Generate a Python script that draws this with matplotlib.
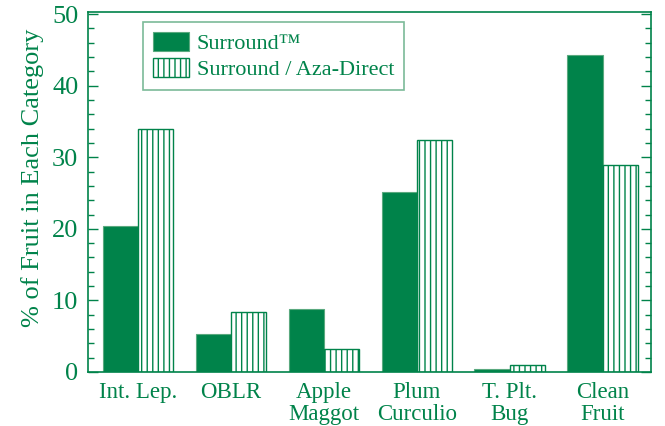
import matplotlib
matplotlib.use("Agg")
import matplotlib.pyplot as plt
import numpy as np
from matplotlib.ticker import MultipleLocator

categories = ["Int. Lep.", "OBLR", "Apple\nMaggot", "Plum\nCurculio", "T. Plt.\nBug", "Clean\nFruit"]
surround = [20.4, 5.3, 8.8, 25.2, 0.4, 44.3]
surround_aza = [33.9, 8.4, 3.2, 32.4, 1.0, 28.9]
series_names = ["Surround\u2122", "Surround / Aza-Direct"]

green = "#00834A"
light = "#5aa97f"

plt.rcParams['font.family'] = ['Liberation Serif', 'DejaVu Serif']
plt.rcParams['hatch.color'] = green
plt.rcParams['hatch.linewidth'] = 1.0

fig = plt.figure(figsize=(6.65, 4.26), dpi=100)
ax = fig.add_axes([88/665, 1-372/426, (651-88)/665, (372-12)/426])

x = np.arange(len(categories))
w = 0.38
ax.bar(x - w/2, surround, w, color=green, edgecolor=light, linewidth=0.8, label=series_names[0])
ax.bar(x + w/2, surround_aza, w, color="white", edgecolor=green, hatch="|||", linewidth=1.0, label=series_names[1])

ax.set_xlim(-0.54, 5.52)
ax.set_ylim(0, 50.3)
ax.yaxis.set_major_locator(MultipleLocator(10))
ax.yaxis.set_minor_locator(MultipleLocator(2))
ax.tick_params(axis='y', which='both', direction='in', right=True, color=green, labelcolor=green, labelsize=19, pad=7)
ax.tick_params(axis='y', which='major', length=7, width=1)
ax.tick_params(axis='y', which='minor', length=4, width=1)
ax.set_xticks(x)
ax.set_xticklabels(categories, linespacing=1.05)
ax.tick_params(axis='x', length=0, labelcolor=green, labelsize=16.5, pad=7)
for s in ax.spines.values():
    s.set_color(green)
    s.set_linewidth(1.2)

ax.set_ylabel("% of Fruit in Each Category", color=green, fontsize=19)
ax.yaxis.set_label_coords(-0.078, 0.54)

leg = ax.legend(loc="upper left", bbox_to_anchor=(0.098, 0.972), fontsize=16, frameon=True,
                fancybox=False, edgecolor=light, handlelength=1.6, handleheight=0.9,
                handletextpad=0.35, borderpad=0.45, labelspacing=0.2, labelcolor=green,
                borderaxespad=0)
leg.get_frame().set_linewidth(1.2)

fig.savefig("out.png", dpi=100)
